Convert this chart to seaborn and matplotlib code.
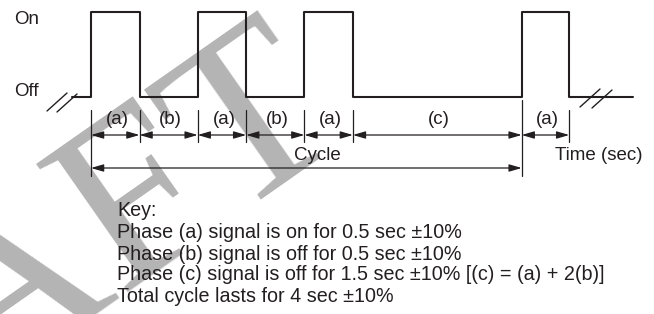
import numpy as np
import pandas as pd
import matplotlib
matplotlib.use("Agg")
import matplotlib.pyplot as plt
import seaborn as sns

# ---------------- data ----------------
phase_labels = ['(a)', '(b)', '(a)', '(b)', '(a)', '(c)', '(a)']
phase_durations = [0.5, 0.6, 0.5, 0.6, 0.5, 1.74, 0.49]   # as drawn (sec)
phase_states = [1, 0, 1, 0, 1, 0, 1]                        # 1 = On, 0 = Off
lead_in = 0.2
tail = 0.66
cycle_phases = 6            # first six phases make one cycle
level_labels = ['Off', 'On']
key_title = 'Key:'
key_lines = [
    'Phase (a) signal is on for 0.5 sec \u00b110%',
    'Phase (b) signal is off for 0.5 sec \u00b110%',
    'Phase (c) signal is off for 1.5 sec \u00b110% [(c) = (a) + 2(b)]',
    'Total cycle lasts for 4 sec \u00b110%',
]
cycle_label = 'Cycle'
time_label = 'Time (sec)'
watermark = 'DRAFT'

# ---------------- style ----------------
sns.set_theme(style='white')
plt.rcParams['font.family'] = ['Liberation Sans', 'DejaVu Sans']
INK = '#231f20'
GREY = '#b4b4b4'

W, H = 654, 314
fig = plt.figure(figsize=(W / 100, H / 100), dpi=100)
ax = fig.add_axes([0, 0, 1, 1])

# pixel layout -> data limits (1 sec ~ 97 px, level step ~ 85 px)
x0_px, sx = 91, 97.0
on_px, off_px = 12, 97
sy = off_px - on_px
ax.set_xlim(-x0_px / sx, (W - x0_px) / sx)
ax.set_ylim(-(H - off_px) / sy, 1 + on_px / sy)
ax.axis('off')

def px(x, y):
    return ((x - x0_px) / sx, -(y - off_px) / sy)

# ---------------- signal ----------------
edges = np.concatenate([[0], np.cumsum(phase_durations)])
t = np.concatenate([[-lead_in], edges, [edges[-1] + tail]])
lev = [0] + phase_states + [0, 0]
df = pd.DataFrame({'t': t, 'level': lev})
sns.lineplot(data=df, x='t', y='level', drawstyle='steps-post', color=INK,
             lw=1.5, ax=ax, zorder=3, estimator=None, sort=False)

# break marks
for (xa, ya, xb, yb) in [(47, 111, 67, 93), (57, 112, 77, 94),
                          (580, 107, 600, 89), (592, 108, 612, 90)]:
    p1, p2 = px(xa, ya), px(xb, yb)
    ax.plot([p1[0], p2[0]], [p1[1], p2[1]], color=INK, lw=1.0, zorder=3)

# level labels
ax.text(*px(14, 20), level_labels[1], fontsize=13.5, color=INK, va='center', ha='left')
ax.text(*px(14, 92), level_labels[0], fontsize=13.5, color=INK, va='center', ha='left')

# ---------------- dimension lines ----------------
y_ext_top = px(0, 110)[1]
y_ext_bot = px(0, 142)[1]
y_dim = px(0, 135)[1]
y_lab = px(0, 119)[1]
y_cyc = px(0, 168)[1]
y_cyc_bot = px(0, 176)[1]
y_cyc_top = px(0, 100)[1]

arrow = dict(arrowstyle='<|-|>,head_length=0.75,head_width=0.22', color=INK,
             lw=0.9, shrinkA=0, shrinkB=0, mutation_scale=10)

cycle_end = edges[cycle_phases]
for xe in edges:
    top, bot = y_ext_top, y_ext_bot
    if np.isclose(xe, 0):
        bot = y_cyc_bot
    if np.isclose(xe, cycle_end):
        top, bot = y_cyc_top, y_cyc_bot
    ax.plot([xe, xe], [top, bot], color=INK, lw=0.9, zorder=3)

for i, lab in enumerate(phase_labels):
    a, b = edges[i], edges[i + 1]
    ax.annotate('', xy=(b, y_dim), xytext=(a, y_dim), arrowprops=arrow, zorder=3)
    ax.text((a + b) / 2 + 0.02, y_lab, lab, fontsize=13.5, color=INK,
            ha='center', va='center')

ax.annotate('', xy=(cycle_end, y_cyc), xytext=(0, y_cyc), arrowprops=arrow, zorder=3)
ax.text(cycle_end / 2 + 0.11, px(0, 155)[1], cycle_label, fontsize=13.5,
        color=INK, ha='center', va='center')
ax.text(px(555, 0)[0], px(0, 156)[1], time_label, fontsize=13.5, color=INK,
        ha='left', va='center')

# ---------------- key ----------------
key_x = px(117, 0)[0]
key_ys = [211, 232, 254, 275, 296]
for s, yy in zip([key_title] + key_lines, key_ys):
    ax.text(key_x, px(0, yy)[1], s, fontsize=14.2, color=INK, ha='left', va='center')

# ---------------- watermark ----------------
wx, wy = px(350, 132)
ax.text(wx, wy, watermark, fontsize=173, family='Liberation Serif', color=GREY,
        rotation=35, rotation_mode='anchor', ha='right', va='baseline', zorder=0)

fig.savefig('out.png', dpi=100)
